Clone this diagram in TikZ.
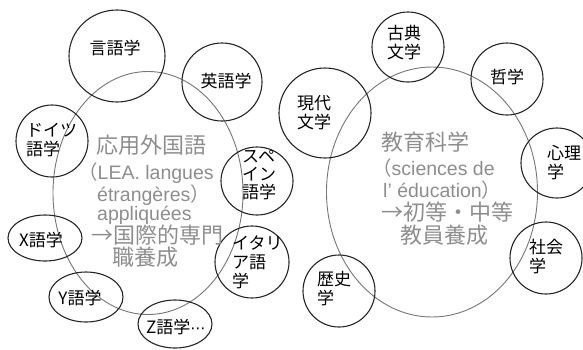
\documentclass[tikz,border=0pt]{standalone}
\usepackage{fontspec}
\newfontfamily\cjk{Noto Sans CJK JP}
\newfontfamily\lat{Liberation Sans}
\newfontfamily\dvs{DejaVu Sans}
\usetikzlibrary{shapes.geometric}
\definecolor{biggray}{HTML}{767676}
\definecolor{txtgray}{HTML}{8E8E8E}
\definecolor{ink}{HTML}{262626}
\tikzset{
  big/.style={draw=biggray, line width=0.9pt, ellipse, inner sep=0pt},
  small/.style={draw=ink, line width=1.1pt, ellipse, inner sep=0pt},
  lbl/.style={text=black, font=\cjk\fontsize{17}{19}\selectfont, align=left, inner sep=0pt},
  gtj/.style={text=txtgray, font=\cjk\fontsize{22}{24}\selectfont, anchor=west, inner sep=0pt},
  gtl/.style={text=txtgray, font=\lat\fontsize{19.5}{22}\selectfont, anchor=west, inner sep=0pt},
}
\begin{document}
\begin{tikzpicture}[x=1pt,y=-1pt]
\useasboundingbox (0,0) rectangle (583,349);
% big ellipses
\node[big, minimum width=190pt, minimum height=243pt] (lea) at (148,193) {};
\node[big, minimum width=211pt, minimum height=250pt] (edu) at (432,192) {};
% left small ellipses
\node[small, minimum width=96pt, minimum height=92pt] (gengo) at (117,56) {};
\node[small, minimum width=80pt, minimum height=78pt] (eigo) at (222,82) {};
\node[small, minimum width=72pt, minimum height=72pt] (doitsu) at (52,141) {};
\node[small, minimum width=72pt, minimum height=68pt] (supein) at (257,181) {};
\node[small, minimum width=74pt, minimum height=46pt] (xgo) at (45,238) {};
\node[small, minimum width=74pt, minimum height=50pt] (ygo) at (86,297) {};
\node[small, minimum width=74pt, minimum height=48pt] (zgo) at (175,324) {};
\node[small, minimum width=74pt, minimum height=72pt] (itaria) at (252,262) {};
% right small ellipses
\node[small, minimum width=72pt, minimum height=70pt] (koten) at (408,47) {};
\node[small, minimum width=72pt, minimum height=72pt] (tetsu) at (507,79) {};
\node[small, minimum width=92pt, minimum height=90pt] (gendai) at (325,113) {};
\node[small, minimum width=72pt, minimum height=70pt] (shinri) at (557,163) {};
\node[small, minimum width=72pt, minimum height=72pt] (shakai) at (546,258) {};
\node[small, minimum width=72pt, minimum height=72pt] (rekishi) at (339,291) {};
% labels
\node[lbl] (tgengo) at (115,48) {言語学};
\node[lbl] (teigo) at (226,81) {英語学};
\node[lbl, anchor=west] (tdoitsu) at (26,140) {ドイツ\\語学};
\node[lbl, anchor=west, font=\cjk\fontsize{17}{18}\selectfont] (tsupein) at (242,175) {スペ\\イン\\語学};
\node[lbl] (txgo) at (41,240) {X語学};
\node[lbl] (tygo) at (80,298) {Y語学};
\node[lbl, anchor=west] (tzgo) at (146,327) {Z語学{\dvs\fontsize{15}{17}\selectfont ⋯}};
\node[lbl, anchor=west] (titaria) at (232,262) {イタリ\\ア語\\学};
\node[lbl, anchor=west] (tkoten) at (387,43) {古典\\文学};
\node[lbl] (ttetsu) at (507,77) {哲学};
\node[lbl, anchor=west] (tgendai) at (297,113) {現代\\文学};
\node[lbl, anchor=west] (tshinri) at (547,163) {心理\\学};
\node[lbl, anchor=west] (tshakai) at (529,257) {社会\\学};
\node[lbl, anchor=west] (trekishi) at (317,289) {歴史\\学};
% left gray text
\node[gtj] (l1) at (96,145) {応用外国語};
\node[gtl] (l2) at (78,173) {{\cjk （}LEA. langues};
\node[gtl] (l3) at (97,195) {étrangères{\cjk ）}};
\node[gtl] (l4) at (97,215) {appliquées};
\node[gtj] (l5) at (91,235) {→国際的専門};
\node[gtj] (l6) at (112,257) {職養成};
% right gray text
\node[gtj] (r1) at (381,142) {教育科学};
\node[gtl] (r2) at (372,168) {{\cjk （}sciences de};
\node[gtl] (r3) at (383,190) {l’ éducation{\cjk ）}};
\node[gtj] (r4) at (381,212) {→初等・中等};
\node[gtj] (r5) at (400,235) {教員養成};
\end{tikzpicture}
\end{document}
